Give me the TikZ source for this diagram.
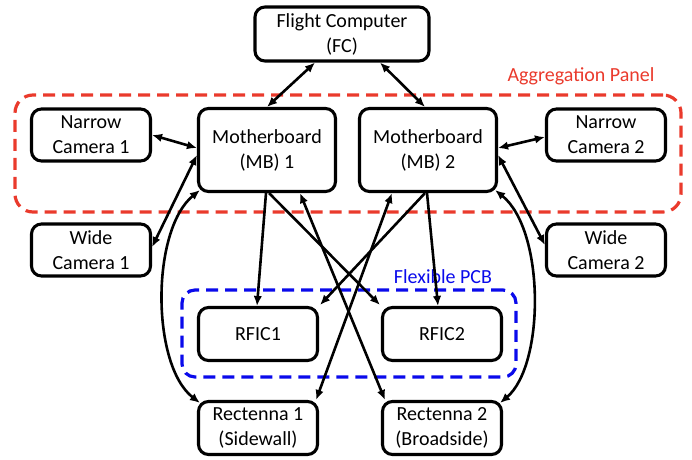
\documentclass[tikz,border=0pt]{standalone}
\usepackage{fontspec}
\setmainfont{Carlito}
\usetikzlibrary{arrows.meta}
\definecolor{aggred}{RGB}{234,58,44}
\definecolor{pcbblue}{RGB}{10,10,235}
\begin{document}
\begin{tikzpicture}[x=1pt,y=-1pt,
  box/.style={draw, line width=3.1pt, rounded corners=10pt, align=center, inner sep=0pt,
    font=\fontsize{20}{25}\selectfont},
  link/.style={line width=2.6pt, {Latex[length=10pt,width=8.5pt]}-{Latex[length=10pt,width=8.5pt]}},
  one/.style={line width=2.6pt, -{Latex[length=10pt,width=8.5pt]}},
  grp/.style={line width=3.2pt, dash pattern=on 12pt off 7pt, inner sep=0pt},
  lbl/.style={font=\fontsize{20}{24}\selectfont, inner sep=0pt},
]
\useasboundingbox (0,0) rectangle (692,459);

% groups
\node[grp, draw=aggred, rounded corners=18pt, minimum width=666pt, minimum height=117pt] (agg) at (348,153.5) {};
\node[grp, draw=pcbblue, rounded corners=13pt, minimum width=334pt, minimum height=87pt] (pcb) at (349,333.5) {};
\node[lbl, text=aggred] (agglabel) at (581,76) {Aggregation Panel};
\node[lbl, text=pcbblue] (pcblabel) at (443,277) {Flexible PCB};

% boxes
\node[box, minimum width=174pt, minimum height=54pt] (fc) at (342,34) {Flight Computer\\(FC)};
\node[box, minimum width=119pt, minimum height=52pt] (nc1) at (91,135) {Narrow\\Camera 1};
\node[box, minimum width=119pt, minimum height=52pt] (nc2) at (606,135) {Narrow\\Camera 2};
\node[box, minimum width=119pt, minimum height=52pt] (wc1) at (91,250) {Wide\\Camera 1};
\node[box, minimum width=119pt, minimum height=52pt] (wc2) at (606,250) {Wide\\Camera 2};
\node[box, minimum width=137pt, minimum height=83pt] (mb1) at (267,150) {Motherboard\\(MB) 1};
\node[box, minimum width=137pt, minimum height=83pt] (mb2) at (428,150) {Motherboard\\(MB) 2};
\node[box, minimum width=119pt, minimum height=53pt] (rf1) at (258,334) {RFIC1};
\node[box, minimum width=119pt, minimum height=53pt] (rf2) at (442,334) {RFIC2};
\node[box, minimum width=119pt, minimum height=53pt] (re1) at (258,428) {Rectenna 1\\(Sidewall)};
\node[box, minimum width=119pt, minimum height=53pt] (re2) at (442,428) {Rectenna 2\\(Broadside)};

% connectors
\draw[link] ([shift={(-27,0)}]fc.south) -- (mb1.north);
\draw[link] ([shift={(38,0)}]fc.south) -- ([shift={(-3,0)}]mb2.north);
\draw[link] (nc1.east) -- ([shift={(0,-2)}]mb1.west);
\draw[link] ([shift={(0,2)}]nc2.west) -- ([shift={(0,-2)}]mb2.east);
\draw[link] ([shift={(0,-3)}]wc1.east) -- ([shift={(0,5)}]mb1.west);
\draw[link] ([shift={(0,-5)}]wc2.west) -- ([shift={(0,5)}]mb2.east);
\draw[link] ([shift={(3,-3)}]mb1.south west) .. controls (151,230) and (151,365) .. ([shift={(3,3)}]re1.north west);
\draw[link] ([shift={(-3,-3)}]mb2.south east) .. controls (545,230) and (545,365) .. ([shift={(-3,3)}]re2.north east);
\draw[one] ([shift={(-1,0)}]mb1.south) -- ([shift={(-1,0)}]rf1.north);
\draw[one] ([shift={(2,0)}]mb1.south) -- ([shift={(-1,-1)}]rf2.north west);
\draw[link] ([shift={(33,0)}]mb1.south) -- ([shift={(4,0)}]re2.north west);
\draw[one] ([shift={(-1,0)}]mb2.south) -- ([shift={(-4,0)}]rf2.north);
\draw[one] ([shift={(-3,0)}]mb2.south) -- ([shift={(1,-1)}]rf1.north east);
\draw[link] ([shift={(-36,0)}]mb2.south) -- ([shift={(-3,0)}]re1.north east);
\end{tikzpicture}
\end{document}
